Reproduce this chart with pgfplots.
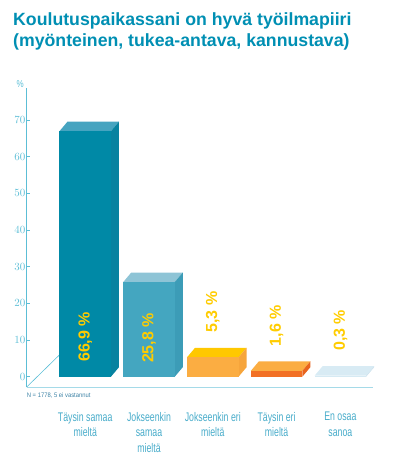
\documentclass[border=0pt]{standalone}
\usepackage{pgfplots}
\pgfplotsset{compat=1.18}
\usepackage{pgfplotstable}
\usepackage{fontspec}
\setmainfont{Liberation Sans}
\newfontfamily\condfont[FakeStretch=0.7]{Liberation Sans}
\newfontfamily\tickfont[FakeStretch=0.8]{Liberation Sans}
\newfontfamily\notefont[FakeStretch=0.9]{Liberation Sans}

\definecolor{titleblue}{RGB}{0,143,179}
\definecolor{axisblue}{RGB}{92,190,214}
\definecolor{floorblue}{RGB}{165,218,232}
\definecolor{catblue}{RGB}{72,172,202}
\definecolor{notecol}{RGB}{60,130,165}
\definecolor{labelyellow}{RGB}{255,204,0}
\definecolor{bAfront}{RGB}{0,137,166}
\definecolor{bAtop}{RGB}{70,164,192}
\definecolor{bAside}{RGB}{8,130,160}
\definecolor{bBfront}{RGB}{68,166,192}
\definecolor{bBtop}{RGB}{142,196,214}
\definecolor{bBside}{RGB}{60,156,183}
\definecolor{bCfront}{RGB}{251,173,66}
\definecolor{bCtop}{RGB}{255,200,0}
\definecolor{bCside}{RGB}{246,165,60}
\definecolor{bDfront}{RGB}{242,112,36}
\definecolor{bDtop}{RGB}{251,173,66}
\definecolor{bDside}{RGB}{232,100,30}
\definecolor{bEfront}{RGB}{214,234,243}
\definecolor{bEtop}{RGB}{216,235,244}
\definecolor{bEside}{RGB}{205,226,238}

% 3D faces (top and side) of a bar at category #1 with value #2
\newcommand\barfaces[4]{%
  \fill[#3] ([xshift=-25.75pt]axis cs:#1,#2) -- ([xshift=25.75pt]axis cs:#1,#2)
     -- ([xshift=33.75pt,yshift=9.5pt]axis cs:#1,#2) -- ([xshift=-17.75pt,yshift=9.5pt]axis cs:#1,#2) -- cycle;
  \fill[#4] ([xshift=25.75pt]axis cs:#1,0) -- ([xshift=25.75pt]axis cs:#1,#2)
     -- ([xshift=33.75pt,yshift=9.5pt]axis cs:#1,#2) -- ([xshift=33.75pt,yshift=9.5pt]axis cs:#1,0) -- cycle;
}

\begin{document}
\begin{tikzpicture}
\path[use as bounding box] (0,0) rectangle (395pt,472pt);

\node[anchor=base west, inner sep=0pt, text=titleblue,
      font=\bfseries\fontsize{17.7}{21}\selectfont] at (13pt,446pt)
      {Koulutuspaikassani on hyvä työilmapiiri};
\node[anchor=base west, inner sep=0pt, text=titleblue,
      font=\bfseries\fontsize{17.7}{21}\selectfont] at (13pt,425pt)
      {(myönteinen, tukea-antava, kannustava)};

\begin{axis}[
  at={(26.7pt,85pt)}, anchor=south west,
  x=63.8pt, y=3.67pt,
  xmin=-0.917, xmax=4.51, ymin=-2.8, ymax=78.7,
  clip=false,
  axis x line*=bottom, axis y line*=left,
  x axis line style={floorblue, line width=0.8pt},
  y axis line style={axisblue, line width=0.8pt},
  tick align=inside, major tick length=3pt,
  ytick={0,10,...,70},
  ytick style={axisblue, line width=0.6pt},
  yticklabel style={font=\tickfont\fontsize{11}{11}\selectfont, text=axisblue, inner sep=1.2pt},
  xtick={0,1,2,3,4},
  xtick style={draw=none},
  xticklabels={{Täysin samaa\\mieltä},{Jokseenkin\\samaa\\mieltä},{Jokseenkin eri\\mieltä},{Täysin eri\\mieltä},{En osaa\\sanoa}},
  xticklabel style={font=\condfont\fontsize{12.5}{15.5}\selectfont, text=catblue, align=center,
                    anchor=north, inner sep=0pt, yshift=-25pt},
]
% floor diagonal
\draw[axisblue, line width=0.6pt] (axis cs:-0.917,-2.8) -- (axis cs:-0.406,5.9);

% bar 1
\barfaces{0}{66.9}{bAtop}{bAside}
\addplot[ybar, bar width=51.5pt, bar shift=0pt, fill=bAfront, draw=none] coordinates {(0,66.9)};
% bar 2
\barfaces{1}{25.8}{bBtop}{bBside}
\addplot[ybar, bar width=51.5pt, bar shift=0pt, fill=bBfront, draw=none] coordinates {(1,25.8)};
% bar 3
\barfaces{2}{5.3}{bCtop}{bCside}
\addplot[ybar, bar width=51.5pt, bar shift=0pt, fill=bCfront, draw=none] coordinates {(2,5.3)};
% bar 4
\barfaces{3}{1.6}{bDtop}{bDside}
\addplot[ybar, bar width=51.5pt, bar shift=0pt, fill=bDfront, draw=none] coordinates {(3,1.6)};
% bar 5
\barfaces{4}{0.3}{bEtop}{bEside}
\addplot[ybar, bar width=51.5pt, bar shift=0pt, fill=bEfront, draw=none] coordinates {(4,0.3)};

% value labels
\tikzset{vlab/.style={rotate=90, anchor=west, inner sep=0pt, text=labelyellow,
                     font=\bfseries\fontsize{16}{16}\selectfont}}
\node[vlab] at (axis cs:0,4.0) {66,9 \%};
\node[vlab] at (axis cs:1,3.7) {25,8 \%};
\node[vlab] at (axis cs:2,12.0) {5,3 \%};
\node[vlab] at (axis cs:3,8.3) {1,6 \%};
\node[vlab] at (axis cs:4,7.0) {0,3 \%};

% percent sign and note
\node[text=axisblue, font=\tickfont\fontsize{10}{10}\selectfont] at (axis cs:-1.02,79.8) {\%};
\node[anchor=west, inner sep=0pt, text=notecol, font=\notefont\fontsize{6.5}{6.5}\selectfont]
  at (axis cs:-0.917,-5.0) {N = 1778, 5 ei vastannut};
\end{axis}
\end{tikzpicture}
\end{document}
